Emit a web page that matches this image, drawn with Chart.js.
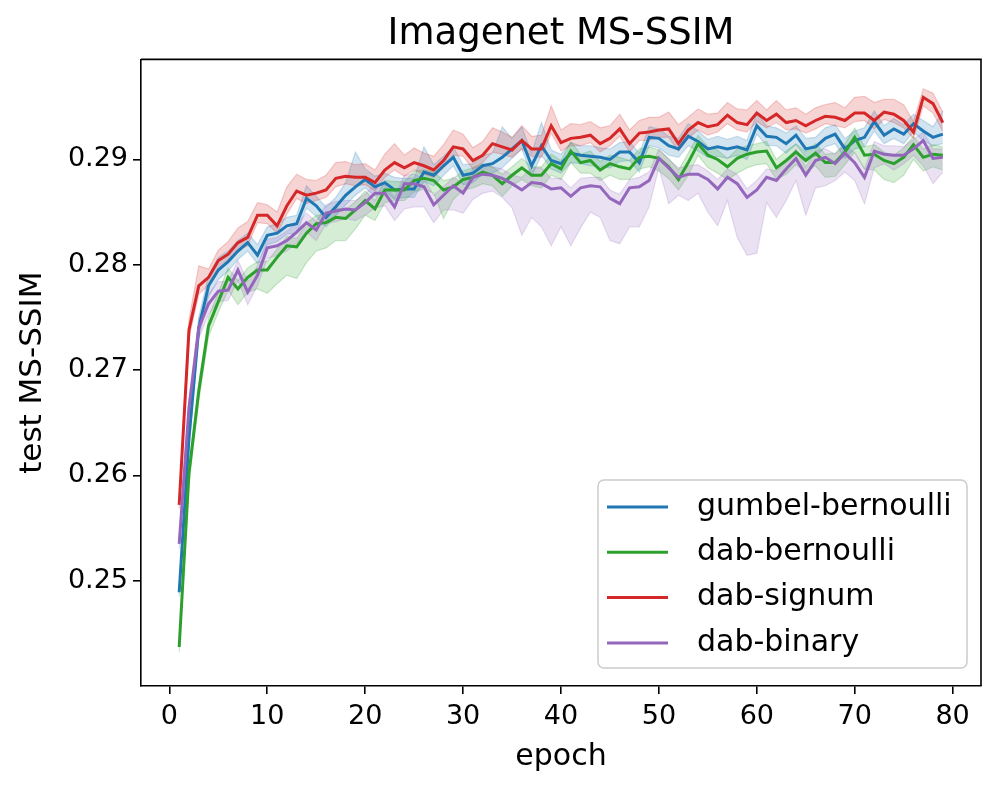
<!DOCTYPE html>
<html>
<head>
<meta charset="utf-8">
<script src="https://cdn.jsdelivr.net/npm/chart.js@4.4.0/dist/chart.umd.min.js"></script>
<style>
  html, body { margin: 0; padding: 0; background: #fff; }
  #wrap { width: 1000px; height: 789px; }
</style>
</head>
<body>
<div id="wrap"><canvas id="chart" width="1000" height="789"></canvas></div>
<script>
// epochs 1..79
const epochs = Array.from({ length: 79 }, (_, i) => i + 1);
const xTicks = [0, 10, 20, 30, 40, 50, 60, 70, 80];
const yTicks = [0.25, 0.26, 0.27, 0.28, 0.29];

const seriesNames = ['gumbel-bernoulli', 'dab-bernoulli', 'dab-signum', 'dab-binary'];
const seriesColors = ['31,119,180', '44,160,44', '214,39,40', '148,103,189'];

// mean test MS-SSIM per epoch
const gumbelBernoulli = [
  0.2489, 0.2635, 0.2740, 0.2780, 0.2795, 0.2803, 0.2813, 0.2821, 0.2809, 0.2828,
  0.2830, 0.2837, 0.2839, 0.2863, 0.2856, 0.2845, 0.2855, 0.2866, 0.2874, 0.2881,
  0.2874, 0.2878, 0.2871, 0.2872, 0.2872, 0.2888, 0.2885, 0.2894, 0.2902, 0.2885,
  0.2887, 0.2894, 0.2896, 0.2902, 0.2910, 0.2918, 0.2894, 0.2913, 0.2899, 0.2896,
  0.2906, 0.2904, 0.2903, 0.2902, 0.2900, 0.2907, 0.2907, 0.2897, 0.2921, 0.2920,
  0.2913, 0.2910, 0.2922, 0.2917, 0.2910, 0.2912, 0.2910, 0.2912, 0.2909, 0.2932,
  0.2922, 0.2921, 0.2915, 0.2923, 0.2910, 0.2912, 0.2920, 0.2924, 0.2910, 0.2918,
  0.2921, 0.2936, 0.2923, 0.2929, 0.2924, 0.2934, 0.2927, 0.2921, 0.2924
];
const dabBernoulli = [
  0.2437, 0.2602, 0.2680, 0.2742, 0.2765, 0.2788, 0.2777, 0.2788, 0.2795, 0.2795,
  0.2807, 0.2818, 0.2817, 0.2830, 0.2839, 0.2840, 0.2845, 0.2844, 0.2852, 0.2861,
  0.2853, 0.2871, 0.2871, 0.2871, 0.2880, 0.2882, 0.2880, 0.2871, 0.2874, 0.2881,
  0.2883, 0.2888, 0.2885, 0.2877, 0.2885, 0.2892, 0.2885, 0.2885, 0.2896, 0.2891,
  0.2908, 0.2897, 0.2899, 0.2890, 0.2896, 0.2893, 0.2891, 0.2902, 0.2903, 0.2901,
  0.2893, 0.2881, 0.2897, 0.2915, 0.2904, 0.2900, 0.2893, 0.2901, 0.2905, 0.2907,
  0.2908, 0.2892, 0.2899, 0.2907, 0.2899, 0.2906, 0.2897, 0.2897, 0.2907, 0.2921,
  0.2904, 0.2905, 0.2899, 0.2896, 0.2902, 0.2914, 0.2902, 0.2905, 0.2904
];
const dabSignum = [
  0.2572, 0.2738, 0.2780, 0.2788, 0.2804, 0.2810, 0.2821, 0.2826, 0.2847, 0.2847,
  0.2837, 0.2856, 0.2870, 0.2866, 0.2868, 0.2871, 0.2882, 0.2884, 0.2883, 0.2883,
  0.2878, 0.2890, 0.2897, 0.2892, 0.2897, 0.2894, 0.2890, 0.2899, 0.2912, 0.2910,
  0.2899, 0.2904, 0.2915, 0.2912, 0.2909, 0.2918, 0.2910, 0.2910, 0.2932, 0.2916,
  0.2920, 0.2921, 0.2923, 0.2915, 0.2920, 0.2929, 0.2915, 0.2925, 0.2926, 0.2928,
  0.2929, 0.2915, 0.2928, 0.2935, 0.2931, 0.2933, 0.2942, 0.2935, 0.2933, 0.2944,
  0.2937, 0.2943, 0.2935, 0.2937, 0.2932, 0.2937, 0.2941, 0.2940, 0.2937, 0.2944,
  0.2944, 0.2937, 0.2945, 0.2943, 0.2937, 0.2926, 0.2959, 0.2953, 0.2935
];
const dabBinary = [
  0.2535, 0.2664, 0.2740, 0.2763, 0.2775, 0.2776, 0.2795, 0.2774, 0.2790, 0.2816,
  0.2818, 0.2823, 0.2831, 0.2840, 0.2833, 0.2849, 0.2851, 0.2853, 0.2852, 0.2859,
  0.2868, 0.2868, 0.2855, 0.2877, 0.2877, 0.2874, 0.2857, 0.2866, 0.2875, 0.2868,
  0.2883, 0.2886, 0.2885, 0.2882, 0.2877, 0.2871, 0.2878, 0.2877, 0.2872, 0.2873,
  0.2865, 0.2873, 0.2875, 0.2874, 0.2863, 0.2858, 0.2873, 0.2874, 0.2880, 0.2901,
  0.2892, 0.2883, 0.2886, 0.2886, 0.2881, 0.2872, 0.2883, 0.2877, 0.2864, 0.2871,
  0.2883, 0.2880, 0.2891, 0.2901, 0.2885, 0.2899, 0.2902, 0.2896, 0.2906, 0.2897,
  0.2883, 0.2908, 0.2905, 0.2904, 0.2904, 0.2910, 0.2918, 0.2901, 0.2902
];

// shaded band: distance above / below the mean, in units of 1e-4
const gumbelUp = [
  4, 8, 10, 10, 12, 10, 10, 9, 10, 8,
  9, 8, 8, 12, 9, 10, 9, 12, 33, 10,
  10, 9, 12, 10, 10, 24, 10, 9, 10, 10,
  9, 10, 10, 29, 10, 13, 12, 22, 10, 9,
  10, 9, 10, 9, 10, 9, 10, 9, 10, 9,
  9, 10, 12, 10, 9, 10, 9, 10, 9, 12,
  10, 9, 10, 9, 10, 9, 10, 9, 10, 9,
  9, 10, 9, 10, 9, 9, 10, 10, 22
];
const gumbelDown = [
  4, 8, 9, 10, 9, 9, 8, 8, 8, 9,
  8, 8, 9, 9, 10, 9, 8, 9, 8, 8,
  9, 8, 9, 8, 8, 9, 10, 9, 8, 9,
  9, 8, 9, 10, 9, 8, 10, 9, 8, 9,
  9, 8, 9, 9, 8, 9, 8, 9, 8, 9,
  9, 8, 9, 9, 8, 9, 9, 8, 9, 8,
  9, 8, 9, 9, 8, 9, 8, 9, 9, 8,
  9, 9, 8, 9, 9, 8, 9, 8, 9
];
const bernoulliUp = [
  3, 8, 8, 8, 9, 9, 8, 9, 8, 8,
  8, 9, 8, 9, 8, 8, 9, 8, 8, 9,
  8, 9, 8, 8, 9, 8, 8, 9, 8, 8,
  9, 8, 8, 9, 8, 9, 8, 8, 9, 8,
  9, 8, 9, 8, 8, 9, 8, 8, 9, 8,
  8, 9, 9, 8, 8, 9, 8, 9, 8, 8,
  9, 8, 9, 8, 8, 9, 8, 9, 8, 9,
  8, 9, 8, 8, 9, 8, 8, 9, 8
];
const bernoulliDown = [
  5, 10, 10, 10, 10, 12, 15, 14, 18, 22,
  25, 28, 30, 28, 26, 24, 22, 21, 18, 14,
  11, 12, 10, 10, 11, 10, 12, 27, 12, 10,
  10, 11, 10, 12, 10, 11, 10, 12, 11, 10,
  11, 10, 12, 10, 11, 12, 10, 11, 10, 12,
  11, 10, 12, 11, 12, 13, 12, 14, 13, 12,
  12, 11, 13, 12, 11, 12, 14, 13, 12, 14,
  13, 15, 18, 18, 17, 14, 13, 12, 14
];
const signumUp = [
  5, 10, 19, 8, 10, 12, 14, 15, 12, 10,
  13, 18, 16, 15, 12, 14, 15, 14, 12, 13,
  12, 15, 18, 12, 14, 12, 13, 15, 16, 14,
  12, 13, 15, 14, 12, 14, 12, 13, 19, 12,
  14, 12, 13, 15, 12, 14, 13, 12, 14, 12,
  16, 18, 12, 13, 12, 11, 12, 13, 14, 12,
  10, 13, 12, 12, 11, 12, 11, 14, 12, 15,
  16, 17, 12, 14, 15, 10, 8, 10, 10
];
const signumDown = [
  4, 8, 8, 7, 8, 7, 7, 8, 7, 8,
  7, 8, 7, 8, 7, 7, 8, 7, 8, 7,
  8, 7, 7, 8, 7, 8, 7, 7, 8, 7,
  8, 7, 8, 7, 7, 8, 7, 8, 7, 8,
  7, 8, 7, 8, 7, 7, 8, 7, 8, 7,
  8, 7, 8, 7, 8, 7, 8, 7, 7, 8,
  7, 8, 7, 8, 7, 8, 7, 8, 7, 8,
  7, 8, 7, 8, 7, 6, 8, 9, 8
];
const binaryUp = [
  5, 8, 9, 9, 9, 8, 9, 10, 9, 8,
  8, 9, 8, 9, 8, 8, 9, 8, 9, 8,
  9, 8, 9, 8, 9, 8, 9, 8, 8, 9,
  8, 9, 8, 9, 8, 12, 14, 15, 10, 9,
  8, 9, 8, 9, 8, 9, 8, 9, 8, 9,
  8, 9, 8, 9, 8, 9, 8, 9, 8, 9,
  8, 9, 8, 9, 8, 9, 8, 9, 8, 9,
  8, 9, 8, 9, 8, 9, 8, 9, 8
];
const binaryDown = [
  5, 10, 10, 10, 10, 10, 10, 12, 10, 10,
  9, 10, 10, 9, 10, 10, 10, 9, 10, 12,
  14, 12, 13, 24, 22, 19, 17, 14, 23, 19,
  21, 18, 15, 18, 23, 43, 33, 41, 54, 37,
  47, 38, 25, 29, 40, 38, 37, 38, 25, 9,
  34, 17, 25, 18, 31, 35, 22, 51, 55, 60,
  24, 35, 30, 21, 38, 26, 27, 16, 18, 17,
  25, 16, 9, 14, 8, 6, 24, 24, 14
];

const means = [gumbelBernoulli, dabBernoulli, dabSignum, dabBinary];
const ups = [gumbelUp, bernoulliUp, signumUp, binaryUp];
const downs = [gumbelDown, bernoulliDown, signumDown, binaryDown];

const font = 'DejaVu Sans';
const lineW = 3;

const datasets = [];
// lines first; the later matplotlib series sits on top
seriesNames.forEach((name, i) => {
  datasets.push({
    label: name,
    data: epochs.map((e, k) => ({ x: e, y: means[i][k] })),
    borderColor: 'rgb(' + seriesColors[i] + ')',
    borderWidth: lineW,
    pointRadius: 0,
    fill: false,
    tension: 0,
    order: 4 - i
  });
});
seriesNames.forEach((name, i) => {
  const c = seriesColors[i];
  datasets.push({
    label: name + ' lo',
    data: epochs.map((e, k) => ({ x: e, y: means[i][k] - downs[i][k] * 1e-4 })),
    borderColor: 'rgba(' + c + ',0.22)',
    borderWidth: 1.2,
    pointRadius: 0,
    fill: false,
    order: 20 - i
  });
  datasets.push({
    label: name + ' hi',
    data: epochs.map((e, k) => ({ x: e, y: means[i][k] + ups[i][k] * 1e-4 })),
    borderColor: 'rgba(' + c + ',0.22)',
    backgroundColor: 'rgba(' + c + ',0.2)',
    borderWidth: 1.2,
    pointRadius: 0,
    fill: '-1',
    order: 20 - i
  });
});

// top/right spines and the boxed legend in the lower right
const framePlugin = {
  id: 'frame',
  afterDraw(chart) {
    const { ctx, chartArea: a } = chart;
    ctx.save();
    ctx.strokeStyle = '#000';
    ctx.lineWidth = 1.6;
    ctx.beginPath();
    ctx.moveTo(a.left, a.top);
    ctx.lineTo(a.right, a.top);
    ctx.lineTo(a.right, a.bottom);
    ctx.stroke();

    const w = 369, h = 188;
    const bx = a.right - 14 - w, by = a.bottom - 18 - h;
    ctx.beginPath();
    ctx.roundRect(bx, by, w, h, 6);
    ctx.fillStyle = 'rgba(255,255,255,0.8)';
    ctx.fill();
    ctx.strokeStyle = '#cccccc';
    ctx.lineWidth = 1.5;
    ctx.stroke();

    ctx.font = '30px "' + font + '"';
    ctx.textBaseline = 'middle';
    ctx.textAlign = 'left';
    seriesNames.forEach((name, i) => {
      const y = by + 27 + i * 45.3;
      ctx.strokeStyle = 'rgb(' + seriesColors[i] + ')';
      ctx.lineWidth = lineW;
      ctx.beginPath();
      ctx.moveTo(bx + 9, y);
      ctx.lineTo(bx + 70, y);
      ctx.stroke();
      ctx.fillStyle = '#000';
      ctx.fillText(name, bx + 99, y);
    });
    ctx.restore();
  }
};

new Chart(document.getElementById('chart'), {
  type: 'line',
  data: { datasets: datasets },
  plugins: [framePlugin],
  options: {
    responsive: false,
    animation: false,
    events: [],
    layout: { padding: { top: 0, right: 19, bottom: 0, left: 0 } },
    plugins: {
      legend: { display: false },
      tooltip: { enabled: false },
      filler: { drawTime: 'beforeDatasetsDraw' },
      title: {
        display: true,
        fullSize: false,
        text: 'Imagenet MS-SSIM',
        color: '#000',
        font: { family: font, size: 37, weight: 'normal' },
        padding: { top: 12, bottom: 3 }
      }
    },
    scales: {
      x: {
        type: 'linear',
        min: -2.9,
        max: 82.9,
        afterBuildTicks: s => { s.ticks = xTicks.map(v => ({ value: v })); },
        afterFit: s => { s.height = 103; },
        ticks: {
          color: '#000',
          font: { family: font, size: 27 },
          padding: 7,
          maxRotation: 0,
          autoSkip: false,
          callback: v => String(v)
        },
        grid: { display: true, drawOnChartArea: false, drawTicks: true, tickLength: 8, color: '#000', lineWidth: 1.6 },
        border: { display: true, color: '#000', width: 1.6 },
        title: {
          display: true,
          text: 'epoch',
          color: '#000',
          font: { family: font, size: 30 },
          padding: { top: 0, bottom: 14 }
        }
      },
      y: {
        type: 'linear',
        min: 0.2400,
        max: 0.2995,
        afterBuildTicks: s => { s.ticks = yTicks.map(v => ({ value: v })); },
        afterFit: s => { s.width = 141; },
        ticks: {
          color: '#000',
          font: { family: font, size: 27 },
          padding: 5,
          autoSkip: false,
          callback: v => Number(v).toFixed(2)
        },
        grid: { display: true, drawOnChartArea: false, drawTicks: true, tickLength: 8, color: '#000', lineWidth: 1.6 },
        border: { display: true, color: '#000', width: 1.6 },
        title: {
          display: true,
          text: 'test MS-SSIM',
          color: '#000',
          font: { family: font, size: 31 },
          padding: { top: 14, bottom: 0 }
        }
      }
    }
  }
});
</script>
</body>
</html>
